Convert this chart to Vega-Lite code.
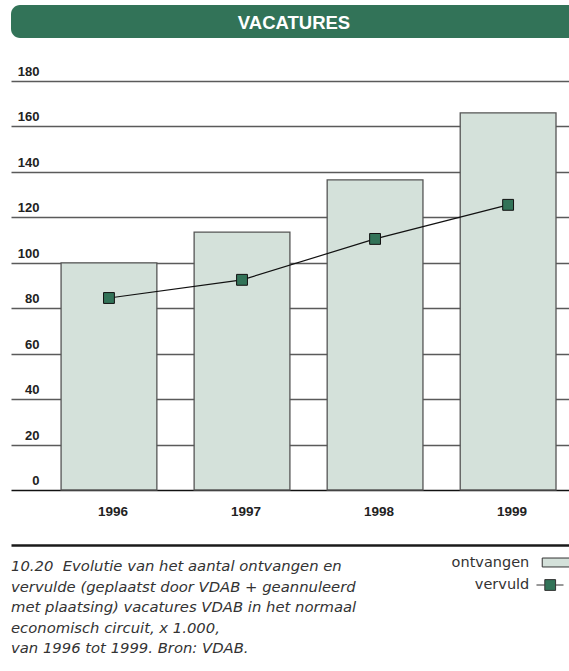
{
  "$schema": "https://vega.github.io/schema/vega-lite/v6.json",
  "padding": {"left": 11, "top": 5, "right": 0, "bottom": 0},
  "background": "white",
  "bounds": "flush",
  "spacing": 43,
  "resolve": {"legend": {"fill": "independent"}, "scale": {"fill": "independent"}},
  "config": {"view": {"stroke": null}},
  "vconcat": [
    {
      "width": 558,
      "height": 33,
      "data": {"values": [{"t": "VACATURES"}]},
      "layer": [
        {"mark": {"type": "rect", "color": "#327358", "cornerRadiusTopLeft": 9, "cornerRadiusBottomLeft": 9}, "encoding": {}},
        {"mark": {"type": "text", "color": "white", "font": "Liberation Sans", "fontWeight": "bold", "fontSize": 18.5, "dx": 4, "dy": 1, "baseline": "middle", "align": "center"},
         "encoding": {"text": {"field": "t"}}}
      ]
    },
    {
      "width": 558,
      "height": 409,
      "title": {
        "text": ["10.20\u00a0 Evolutie van het aantal ontvangen en", "vervulde (geplaatst door VDAB + geannuleerd", "met plaatsing) vacatures VDAB in het normaal", "economisch circuit, x 1.000,", "van 1996 tot 1999. Bron: VDAB."],
        "orient": "bottom", "anchor": "start", "baseline": "top",
        "font": "DejaVu Sans", "fontStyle": "italic", "fontWeight": "normal", "fontSize": 14.8,
        "color": "#333", "lineHeight": 20.5, "offset": -34
      },
      "data": {"values": [
        {"year": "1996", "ontvangen": 100, "vervuld": 84.5},
        {"year": "1997", "ontvangen": 113.5, "vervuld": 92.5},
        {"year": "1998", "ontvangen": 136.5, "vervuld": 110.5},
        {"year": "1999", "ontvangen": 166, "vervuld": 125.5}
      ]},
      "encoding": {
        "x": {"field": "year", "type": "ordinal", "title": null,
          "scale": {"paddingInner": 0.28, "paddingOuter": 0.237, "align": 0.794},
          "axis": {"orient": "bottom", "offset": 55, "domain": true, "domainColor": "#1a1a1a", "domainWidth": 2.5,
            "ticks": false, "tickSize": 0, "labelPadding": -34, "labelBaseline": "middle", "labelOffset": 4,
            "labelAngle": 0, "labelFont": "Liberation Sans", "labelFontWeight": "bold", "labelFontSize": 13.5, "labelColor": "#222", "grid": false}}
      },
      "layer": [
        {
          "mark": {"type": "bar", "stroke": "#555", "strokeWidth": 1.3},
          "encoding": {
            "y": {"field": "ontvangen", "type": "quantitative", "title": null,
              "scale": {"domain": [0, 180], "nice": false},
              "axis": {"values": [0, 20, 40, 60, 80, 100, 120, 140, 160, 180], "grid": true,
                "gridColor": {"condition": {"test": "datum.value === 0", "value": "#111"}, "value": "#5a5a5a"},
                "gridWidth": 1.3, "domain": false, "ticks": false, "tickSize": 0,
                "labelAlign": "right", "labelPadding": -28, "labelBaseline": "alphabetic", "labelOffset": -5.5,
                "labelFont": "Liberation Sans", "labelFontWeight": "bold", "labelFontSize": 13, "labelColor": "#222"}},
            "fill": {"datum": "ontvangen", "type": "nominal",
              "scale": {"domain": ["ontvangen", "vervuld"], "range": ["#d4e1da", "#327358"]},
              "legend": {"orient": "none", "legendX": 531.7, "legendY": 474, "title": null, "direction": "vertical",
                "symbolSize": 196, "symbolStrokeColor": "#333", "symbolStrokeWidth": 1, "symbolOpacity": 1,
                "labelAlign": "right", "labelOffset": -28.4, "labelFont": "DejaVu Sans", "labelFontSize": 14.5,
                "labelColor": "#333", "rowPadding": 7.5, "padding": 0, "labelLimit": 200,
                "encode": {"symbols": {"update": {"shape": {"signal": "datum.value === 'ontvangen' ? 'M-1.14,-0.64H2.9V0.64H-1.14Z' : 'M-1.96,0H-0.77M0.77,0H1.9M-0.77,-0.77H0.77V0.77H-0.77Z'"}}}}}}
          }
        },
        {
          "mark": {"type": "line", "color": "#111", "strokeWidth": 1.2},
          "encoding": {"y": {"field": "vervuld", "type": "quantitative"}}
        },
        {
          "mark": {"type": "point", "shape": "square", "size": 118, "filled": true, "stroke": "#111", "strokeWidth": 1, "opacity": 1},
          "encoding": {
            "y": {"field": "vervuld", "type": "quantitative"},
            "fill": {"datum": "vervuld", "type": "nominal"}
          }
        }
      ]
    }
  ]
}
